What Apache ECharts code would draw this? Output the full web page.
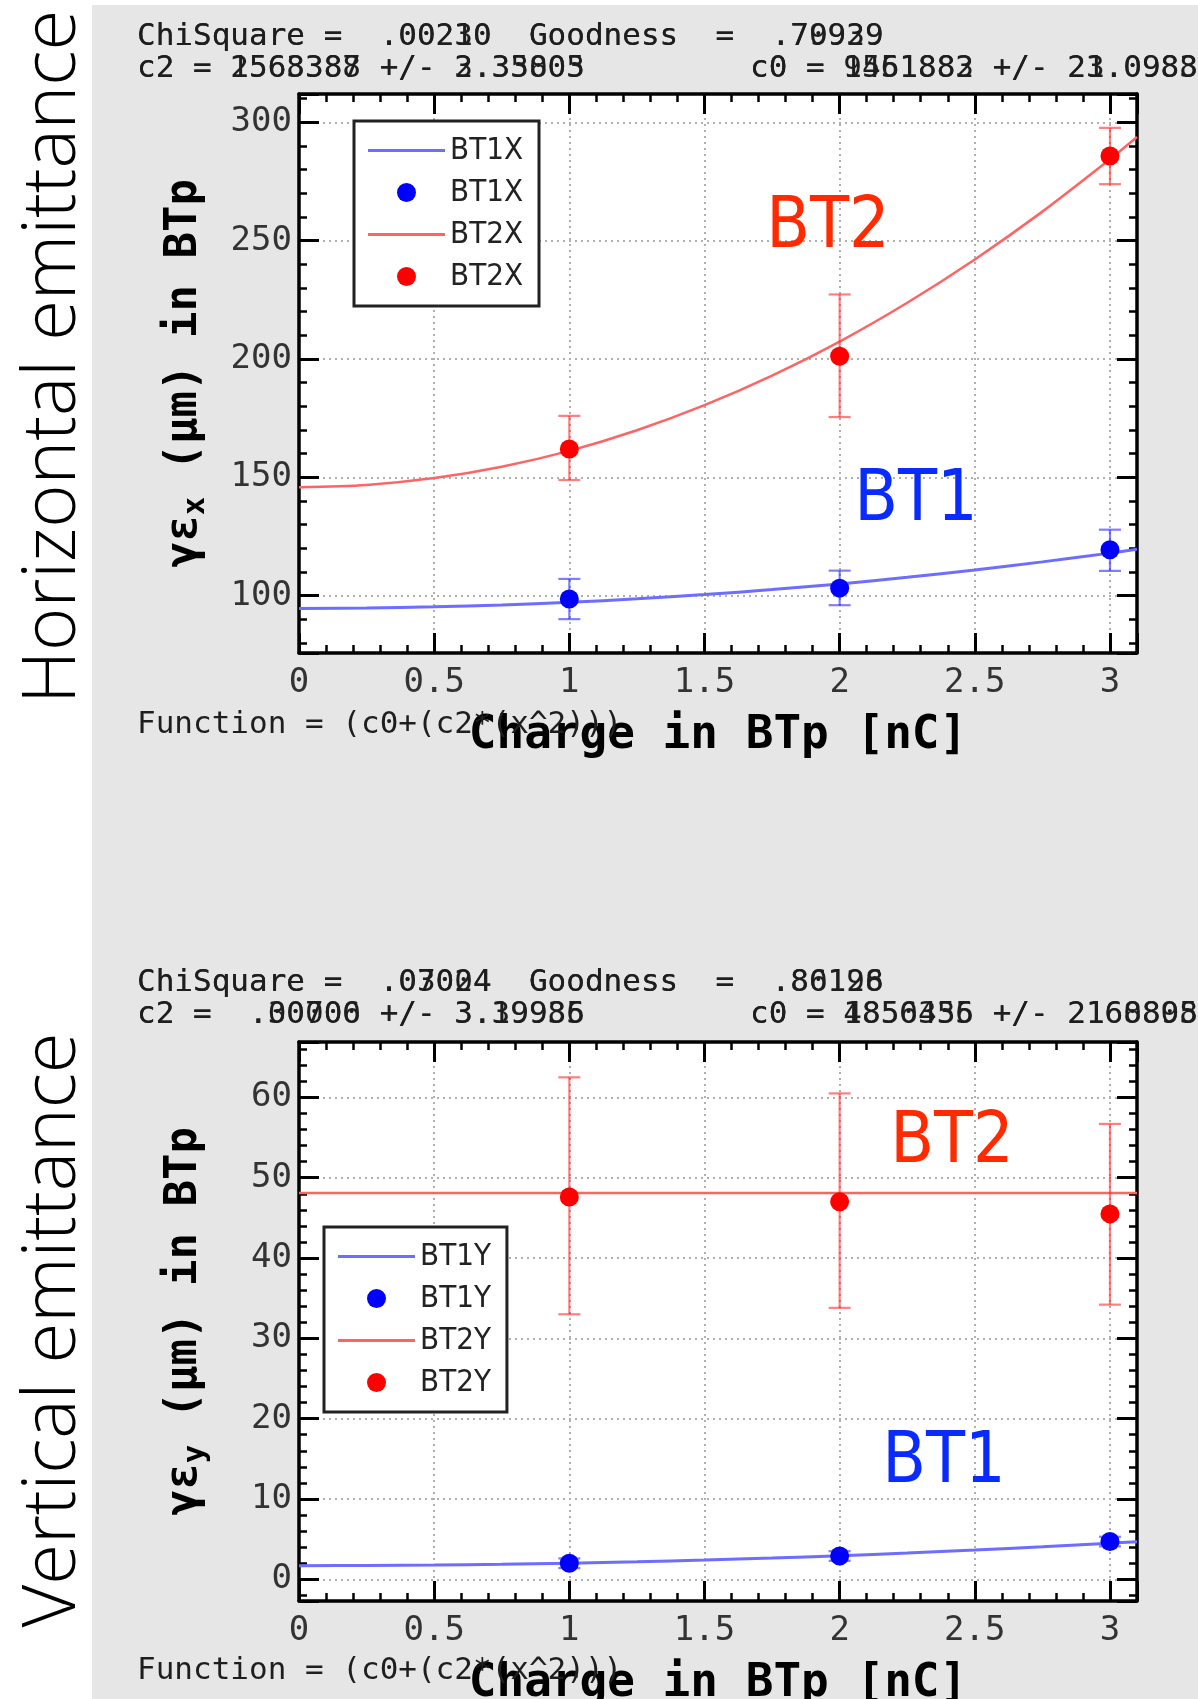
<!DOCTYPE html>
<html>
<head>
<meta charset="utf-8">
<title>Emittance vs charge in BTp</title>
<script src="https://cdn.jsdelivr.net/npm/echarts@6/dist/echarts.min.js"></script>
<style>
  html, body { margin: 0; padding: 0; background: #fff; }
  #chart { width: 1198px; height: 1699px; }
</style>
</head>
<body>
<div id="chart"></div>
<script>
// ---- measured points (charge in nC) ----
const charge = [1, 2, 3];

// horizontal emittance, BT1 / BT2
const bt1x = [98.6, 103.2, 119.4];
const bt1xLo = [90.1, 96.0, 110.5];
const bt1xHi = [107.1, 110.6, 127.9];
const bt2x = [162.0, 201.2, 285.8];
const bt2xLo = [148.9, 175.5, 273.9];
const bt2xHi = [176.0, 227.3, 297.7];

// vertical emittance, BT1 / BT2
const bt1y = [2.0, 2.9, 4.7];
const bt1yLo = [1.4, 2.3, 4.1];
const bt1yHi = [2.6, 3.5, 5.3];
const bt2y = [47.6, 47.0, 45.5];
const bt2yLo = [33.0, 33.8, 34.2];
const bt2yHi = [62.5, 60.5, 56.7];

// fitted curves c0 + c2*x^2, sampled along the charge axis
const fitCharge = [0, 0.25, 0.5, 0.75, 1, 1.25, 1.5, 1.75, 2, 2.25, 2.5, 2.75, 3, 3.1];
const bt1xFit = [94.6, 94.8, 95.3, 96.1, 97.2, 98.7, 100.5, 102.6, 105.0, 107.8, 110.9, 114.3, 118.0, 119.6];
const bt2xFit = [145.8, 146.8, 149.7, 154.5, 161.2, 169.9, 180.5, 193.0, 207.4, 223.8, 242.1, 262.3, 284.4, 293.8];
const bt1yFit = [1.70, 1.72, 1.78, 1.87, 2.01, 2.18, 2.40, 2.65, 2.94, 3.27, 3.64, 4.04, 4.49, 4.68];
const bt2yFit = [48.1, 48.1, 48.1, 48.1, 48.1, 48.1, 48.1, 48.1, 48.1, 48.1, 48.1, 48.1, 48.1, 48.1];

// axis ranges and tick steps
const xRange = [0, 3.1];
const xStep = 0.5;
const yRangeH = [75.8, 312];
const yStepH = 50;
const yRangeV = [-2.7, 66.9];
const yStepV = 10;

// fit summary text (two overlaid fit results per panel)
const fitTextH = [
  ['ChiSquare =  .00230  Goodness  =  .79939', 'ChiSquare =  .00210  Goodness  =  .70929'],
  ['c2 = 2568388 +/- 3.35005', 'c2 = 1563387 +/- 2.33803'],
  ['c0 = 9561883 +/- 23.0988', 'c0 = 1451882 +/- 21.0983']
];
const fitTextV = [
  ['ChiSquare =  .03004  Goodness  =  .80196', 'ChiSquare =  .07024  Goodness  =  .86128'],
  ['c2 =  .00000 +/- 3.39986', 'c2 =  .30706 +/- 3.19935'],
  ['c0 = 4856456 +/- 2160808', 'c0 = 1850335 +/- 2168895']
];
const functionText = 'Function = (c0+(c2*(x^2)))';

const zip = (xs, ys) => xs.map((x, i) => [x, ys[i]]);
const bars = (xs, lo, hi) => xs.map((x, i) => [x, lo[i], hi[i]]);

const MONO = "'DejaVu Sans Mono', monospace";
const COND = "'DejaVu Sans Condensed', 'DejaVu Sans', sans-serif";
const BLUE = '#0000ff', RED = '#ff0000';
const BLUE_FIT = '#6d6dff', RED_FIT = '#ff6464';
const BLUE_ERR = 'rgba(40,40,255,0.6)', RED_ERR = 'rgba(255,40,40,0.6)';
const LINE_ICON = 'path://M0,0H77V3H0Z';

const G = [
  { left: 299, top: 94, width: 838, height: 559 },
  { left: 299, top: 1042, width: 838, height: 559 }
];

const gridline = { show: true, lineStyle: { color: '#b0b0b0', width: 2, type: [2, 4] } };
const majorTick = { show: true, inside: true, length: 20, lineStyle: { color: '#000', width: 3 } };
const minorTick = { show: true, splitNumber: 5, length: 8, lineStyle: { color: '#000', width: 2.5 } };
const frameLine = { show: true, onZero: false, lineStyle: { color: '#000', width: 3.5 } };
const tickFont = { fontFamily: MONO, fontSize: 34, color: '#333' };

function xAxes(gi) {
  return [
    {
      type: 'value', gridIndex: gi, position: 'bottom', min: xRange[0], max: xRange[1],
      minInterval: xStep, maxInterval: xStep,
      axisLine: frameLine, axisTick: majorTick, minorTick: minorTick,
      splitLine: gridline, minorSplitLine: { show: false },
      axisLabel: Object.assign({ margin: 13, showMinLabel: true, showMaxLabel: false }, tickFont),
      name: 'Charge in BTp [nC]', nameLocation: 'middle', nameGap: 60,
      nameTextStyle: { fontFamily: MONO, fontSize: 46, fontWeight: 'bold', color: '#000' }
    },
    {
      type: 'value', gridIndex: gi, position: 'top', min: xRange[0], max: xRange[1],
      minInterval: xStep, maxInterval: xStep,
      axisLine: frameLine, axisTick: majorTick, minorTick: minorTick,
      splitLine: { show: false }, axisLabel: { show: false }
    }
  ];
}

function yAxes(gi, range, step, sub) {
  return [
    {
      type: 'value', gridIndex: gi, position: 'left', min: range[0], max: range[1],
      minInterval: step, maxInterval: step,
      axisLine: frameLine, axisTick: majorTick, minorTick: minorTick,
      splitLine: gridline, minorSplitLine: { show: false },
      axisLabel: Object.assign({ margin: 7, padding: [10, 0, 0, 0], showMinLabel: false, showMaxLabel: false }, tickFont),
      name: '{a|γε}{s|' + sub + '}{a| (μm) in BTp}', nameLocation: 'middle', nameGap: 89, nameRotate: 90,
      nameTextStyle: {
        rich: {
          a: { fontFamily: MONO, fontSize: 44, fontWeight: 'bold', color: '#000', lineHeight: 50 },
          s: { fontFamily: MONO, fontSize: 30, fontWeight: 'bold', color: '#000', lineHeight: 50, padding: [22, 0, 0, 0] }
        }
      }
    },
    {
      type: 'value', gridIndex: gi, position: 'right', min: range[0], max: range[1],
      minInterval: step, maxInterval: step,
      axisLine: frameLine, axisTick: majorTick, minorTick: minorTick,
      splitLine: { show: false }, axisLabel: { show: false }
    }
  ];
}

function fitSeries(name, xi, yi, xs, ys, color, width) {
  return {
    name: name, type: 'line', xAxisIndex: xi, yAxisIndex: yi,
    data: zip(xs, ys), symbol: 'none', smooth: 0.3,
    lineStyle: { color: color, width: width }, itemStyle: { color: color },
    z: 3, animation: false
  };
}
function pointSeries(name, xi, yi, xs, ys, color) {
  return {
    name: name, type: 'scatter', xAxisIndex: xi, yAxisIndex: yi,
    data: zip(xs, ys), symbol: 'circle', symbolSize: 19,
    itemStyle: { color: color, opacity: 1 }, z: 5, animation: false
  };
}
function errSeries(xi, yi, data, color) {
  return {
    type: 'custom', xAxisIndex: xi, yAxisIndex: yi, data: data, z: 4, animation: false,
    encode: { x: 0, y: [1, 2] },
    renderItem: function (params, api) {
      const x = api.value(0);
      const lo = api.coord([x, api.value(1)]);
      const hi = api.coord([x, api.value(2)]);
      const w = 11;
      const st = { stroke: color, lineWidth: 2.2 };
      return {
        type: 'group',
        children: [
          { type: 'line', shape: { x1: lo[0], y1: lo[1], x2: hi[0], y2: hi[1] }, style: st },
          { type: 'line', shape: { x1: lo[0] - w, y1: lo[1], x2: lo[0] + w, y2: lo[1] }, style: st },
          { type: 'line', shape: { x1: hi[0] - w, y1: hi[1], x2: hi[0] + w, y2: hi[1] }, style: st }
        ]
      };
    }
  };
}

function legendBox(left, top, names) {
  return {
    orient: 'vertical', left: left, top: top,
    data: names.map(n => n.indexOf(' fit') > 0 ? { name: n, icon: LINE_ICON } : { name: n, icon: 'circle' }),
    formatter: n => n.replace(' fit', ''),
    itemWidth: 77, itemHeight: 19, itemGap: 11,
    padding: [14, 16, 14, 14],
    backgroundColor: '#fff', borderColor: '#222', borderWidth: 3, borderRadius: 0,
    textStyle: { fontFamily: COND, fontSize: 31, color: '#222', lineHeight: 31 },
    selectedMode: false, symbolKeepAspect: true
  };
}

function headerTexts(lines, yTop, yBot) {
  const out = [];
  const st = { fontFamily: MONO, fontSize: 31, fill: '#1e1e1e', textVerticalAlign: 'middle' };
  const place = [[137, yTop], [137, yBot], [750, yBot]];
  lines.forEach((pair, i) => {
    pair.forEach(t => {
      out.push({ type: 'text', x: place[i][0], y: place[i][1], z: 50,
        style: Object.assign({ text: t, textAlign: 'left' }, st) });
    });
  });
  return out;
}

function sideLabel(text, y) {
  return { type: 'text', x: 54, y: y, rotation: Math.PI / 2, z: 50,
    style: { text: text, fontFamily: "'Open Sans', 'Noto Sans', sans-serif", fontWeight: 300,
      fontSize: 74, fill: '#000', textAlign: 'center', textVerticalAlign: 'middle' } };
}
function tag(text, x, y, color) {
  return { type: 'text', x: x, y: y, z: 50,
    style: { text: text, fontFamily: "'Liberation Sans Narrow', 'DejaVu Sans Condensed', sans-serif",
      fontSize: 71, fill: color, textAlign: 'center', textVerticalAlign: 'middle' } };
}

const chart = echarts.init(document.getElementById('chart'), null, { renderer: 'canvas' });
chart.setOption({
  backgroundColor: '#ffffff',
  animation: false,
  grid: G.map(g => Object.assign({ show: true, backgroundColor: '#fff', borderWidth: 0, containLabel: false, outerBoundsMode: 'none' }, g)),
  xAxis: xAxes(0).concat(xAxes(1)),
  yAxis: yAxes(0, yRangeH, yStepH, 'x').concat(yAxes(1, yRangeV, yStepV, 'y')),
  legend: [
    legendBox(354, 121, ['BT1X fit', 'BT1X', 'BT2X fit', 'BT2X']),
    legendBox(324, 1227, ['BT1Y fit', 'BT1Y', 'BT2Y fit', 'BT2Y'])
  ],
  series: [
    fitSeries('BT1X fit', 0, 0, fitCharge, bt1xFit, BLUE_FIT, 3),
    fitSeries('BT2X fit', 0, 0, fitCharge, bt2xFit, RED_FIT, 2.5),
    errSeries(0, 0, bars(charge, bt1xLo, bt1xHi), BLUE_ERR),
    errSeries(0, 0, bars(charge, bt2xLo, bt2xHi), RED_ERR),
    pointSeries('BT1X', 0, 0, charge, bt1x, BLUE),
    pointSeries('BT2X', 0, 0, charge, bt2x, RED),

    fitSeries('BT1Y fit', 2, 2, fitCharge, bt1yFit, BLUE_FIT, 3),
    fitSeries('BT2Y fit', 2, 2, fitCharge, bt2yFit, RED_FIT, 2.5),
    errSeries(2, 2, bars(charge, bt1yLo, bt1yHi), BLUE_ERR),
    errSeries(2, 2, bars(charge, bt2yLo, bt2yHi), RED_ERR),
    pointSeries('BT1Y', 2, 2, charge, bt1y, BLUE),
    pointSeries('BT2Y', 2, 2, charge, bt2y, RED)
  ],
  graphic: [
    { type: 'rect', z: -100, shape: { x: 92, y: 5, width: 1106, height: 1694 }, style: { fill: '#e6e6e6' } },
    sideLabel('Horizontal emittance', 357),
    sideLabel('Vertical emittance', 1330),
    tag('BT2', 828, 229, '#ff2a00'),
    tag('BT1', 916, 502, '#0a2bff'),
    tag('BT2', 952, 1144, '#ff2a00'),
    tag('BT1', 944, 1464, '#0a2bff'),
    { type: 'text', x: 137, y: 725, z: 40,
      style: { text: functionText, fontFamily: MONO, fontSize: 31, fill: '#1e1e1e', textVerticalAlign: 'middle' } },
    { type: 'text', x: 137, y: 1671, z: 40,
      style: { text: functionText, fontFamily: MONO, fontSize: 31, fill: '#1e1e1e', textVerticalAlign: 'middle' } }
  ].concat(headerTexts(fitTextH, 37, 69)).concat(headerTexts(fitTextV, 983, 1015))
});
</script>
</body>
</html>
